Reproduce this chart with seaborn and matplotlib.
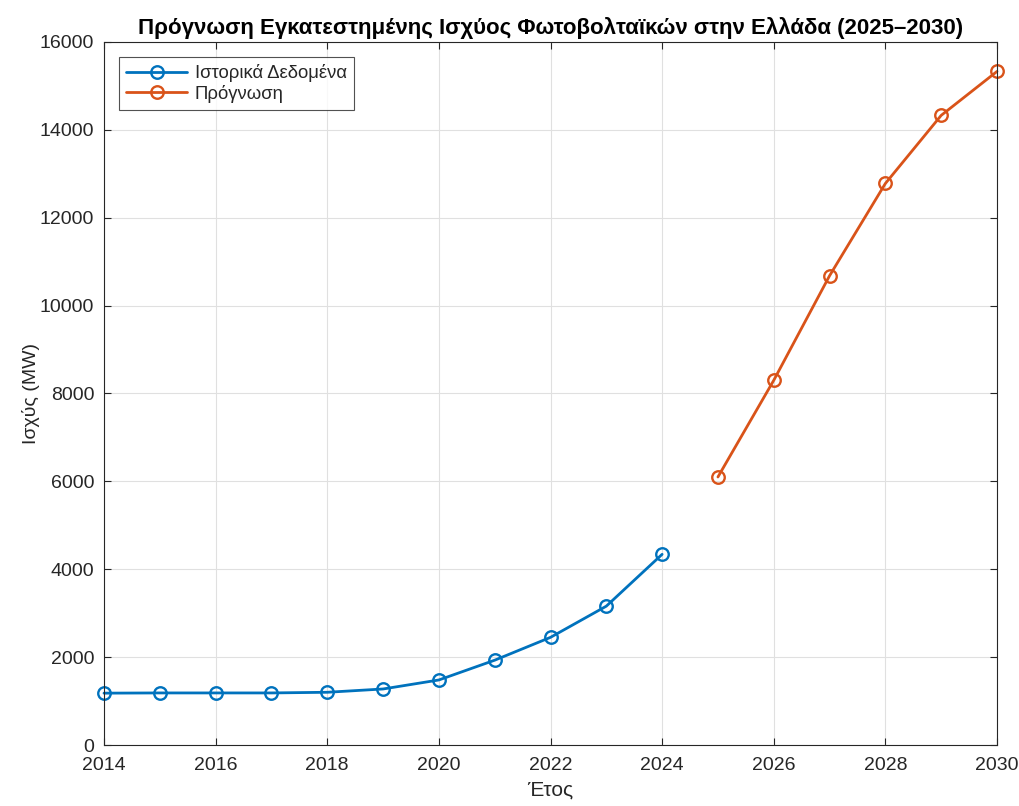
import matplotlib
matplotlib.use("Agg")
import matplotlib.pyplot as plt
import seaborn as sns
import pandas as pd

hist_years = [2014, 2015, 2016, 2017, 2018, 2019, 2020, 2021, 2022, 2023, 2024]
hist_mw = [1180, 1185, 1185, 1185, 1200, 1275, 1480, 1930, 2450, 3160, 4340]
fc_years = [2025, 2026, 2027, 2028, 2029, 2030]
fc_mw = [6100, 8300, 10680, 12780, 14330, 15330]

labels = ["Ιστορικά Δεδομένα", "Πρόγνωση"]
colors = ["#0072BD", "#D95319"]
x_ticks = list(range(2014, 2031, 2))
y_ticks = list(range(0, 16001, 2000))

sns.set_theme(style="white")
plt.rcParams["font.family"] = ["Liberation Sans", "DejaVu Sans"]

fig = plt.figure(figsize=(10.2, 8.06), dpi=100)
ax = fig.add_axes([104 / 1020, 1 - 745 / 806, (997 - 104) / 1020, (745 - 42) / 806])

df_h = pd.DataFrame({"year": hist_years, "mw": hist_mw})
df_f = pd.DataFrame({"year": fc_years, "mw": fc_mw})

for df, lab, col in [(df_h, labels[0], colors[0]), (df_f, labels[1], colors[1])]:
    sns.lineplot(data=df, x="year", y="mw", ax=ax, color=col, linewidth=2.0,
                 marker="o", markersize=9, markerfacecolor="none",
                 markeredgecolor=col, markeredgewidth=1.7, label=lab, clip_on=False)

ax.set_xlim(2014, 2030)
ax.set_ylim(0, 16000)
ax.set_xticks(x_ticks)
ax.set_yticks(y_ticks)
ax.grid(True, color="#e0e0e0", linewidth=0.8)
ax.set_axisbelow(True)
for s in ax.spines.values():
    s.set_color("#262626")
    s.set_linewidth(0.8)
    s.set_visible(True)
ax.tick_params(direction="in", length=5, width=0.8, colors="#262626", labelsize=14,
               bottom=True, left=True, top=True, right=True, labeltop=False, labelright=False)
ax.tick_params(axis="x", pad=9)
ax.tick_params(axis="y", pad=7)
for t in ax.get_xticklabels() + ax.get_yticklabels():
    t.set_color("#262626")

ax.set_xlabel("Έτος", fontsize=15, color="#262626", labelpad=4)
ax.set_ylabel("Ισχύς (MW)", fontsize=14, color="#262626")
ax.yaxis.set_label_coords(-0.072, 0.5)
ax.set_title("Πρόγνωση Εγκατεστημένης Ισχύος Φωτοβολταϊκών στην Ελλάδα (2025–2030)",
             fontsize=16, fontweight="bold", color="black", pad=6)

leg = ax.legend(loc="upper left", fontsize=13.3, frameon=True, fancybox=False,
                edgecolor="#262626", borderaxespad=0.8, handlelength=3.3,
                handletextpad=0.4, labelspacing=0.15, borderpad=0.4)
leg.get_frame().set_linewidth(0.8)

fig.savefig("out.png", dpi=100)
